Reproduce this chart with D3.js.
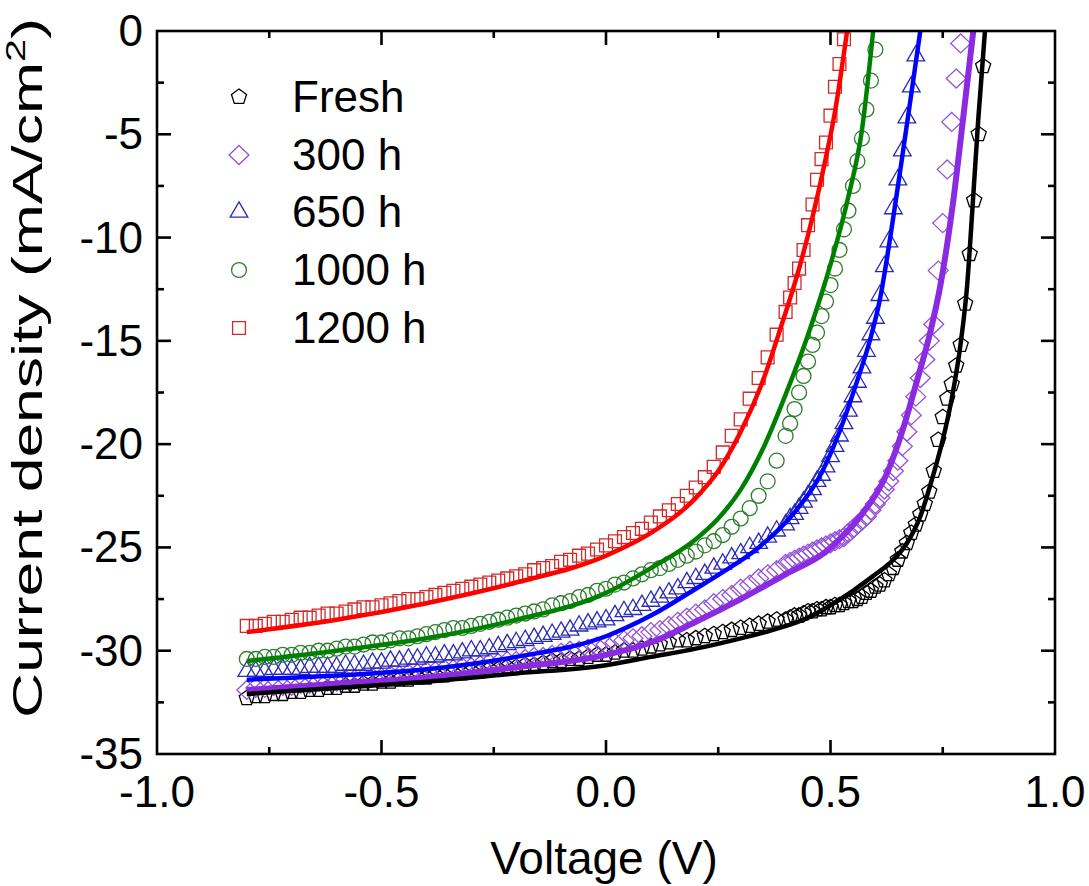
<!DOCTYPE html>
<html>
<head>
<meta charset="utf-8">
<script src="https://cdn.jsdelivr.net/npm/d3@7"></script>
<style>
  body { margin: 0; background: #fff; }
  text { font-family: "Liberation Sans", Arial, sans-serif; fill: #000; }
</style>
</head>
<body>
<script>
var width = 1089, height = 886;

// voltage grid of the measured points (V)
var vFlat = [-0.80,-0.78,-0.76,-0.74,-0.72,-0.70,-0.68,-0.66,-0.64,-0.62,-0.60,-0.58,-0.56,-0.54,-0.52,-0.50,
             -0.48,-0.46,-0.44,-0.42,-0.40,-0.38,-0.36,-0.34,-0.32,-0.30,-0.28,-0.26,-0.24,-0.22,-0.20,-0.18,
             -0.16,-0.14,-0.12,-0.10,-0.08,-0.06,-0.04,-0.02,0.00,0.02,0.04,0.06,0.08,0.10,0.12,0.14,
             0.16,0.18,0.20,0.22,0.24,0.26,0.28,0.30,0.32,0.34,0.36,0.38,0.40];
var vTail = [0.41,0.42,0.43,0.44,0.45,0.46,0.47,0.48,0.49,0.50,0.51,0.52,0.53,0.54,0.55,0.56,0.57,0.58,0.59,0.60,
             0.61,0.62,0.63,0.64,0.65,0.66,0.67,0.68,0.69,0.70,0.71,0.72,0.73,0.74,0.75,0.76,0.77,0.78,0.79,0.80,
             0.81,0.82,0.83,0.84];

// measured current density (mA/cm2)
var freshJ = [-32.3,-32.2,-32.2,-32.1,-32.1,-32.0,-32.0,-31.9,-31.9,-31.8,-31.8,-31.7,-31.7,-31.6,-31.6,-31.5,
              -31.5,-31.4,-31.4,-31.3,-31.3,-31.2,-31.2,-31.1,-31.1,-31.0,-31.0,-30.9,-30.9,-30.8,-30.8,-30.7,
              -30.7,-30.6,-30.5,-30.5,-30.4,-30.4,-30.3,-30.2,-30.2,-30.1,-30.0,-30.0,-29.9,-29.8,-29.7,-29.6,
              -29.5,-29.5,-29.4,-29.3,-29.2,-29.1,-29.0,-28.9,-28.8,-28.7,-28.6,-28.5,-28.5,
              -28.4,-28.3,-28.3,-28.2,-28.1,-28.1,-28.0,-28.0,-27.9,-27.9,-27.8,-27.8,-27.7,-27.6,-27.6,-27.5,
              -27.4,-27.2,-27.1,-26.9,-26.8,-26.6,-26.3,-26.0,-25.6,-25.2,-24.8,-24.3,-23.9,-23.4,-22.9,-22.3,
              -21.3,-19.8,-18.7,-17.8,-17.1,-16.2,-15.2,-13.2,-10.8,-8.2,-5.0,-1.7];
var h300J = [-31.9,-31.8,-31.8,-31.7,-31.7,-31.7,-31.6,-31.6,-31.5,-31.5,-31.5,-31.4,-31.4,-31.3,-31.3,-31.3,
             -31.2,-31.2,-31.1,-31.1,-31.0,-31.0,-30.9,-30.9,-30.8,-30.8,-30.7,-30.6,-30.6,-30.5,-30.5,-30.4,
             -30.3,-30.3,-30.2,-30.1,-30.0,-30.0,-29.9,-29.8,-29.7,-29.6,-29.5,-29.4,-29.3,-29.1,-29.0,-28.8,
             -28.6,-28.4,-28.2,-28.0,-27.7,-27.5,-27.3,-27.0,-26.8,-26.5,-26.3,-26.1,-25.8,
             -25.7,-25.6,-25.5,-25.4,-25.3,-25.2,-25.1,-25.0,-24.9,-24.8,-24.7,-24.6,-24.5,-24.3,-24.1,-23.9,
             -23.7,-23.5,-23.2,-22.9,-22.6,-22.2,-21.8,-21.3,-20.8,-20.1,-19.4,-18.6,-17.7,-16.8,-15.9,-15.0,
             -14.2,-11.6,-9.3,-6.7,-4.4,-2.3,-0.6];
var h650J = [-31.0,-31.0,-31.0,-30.9,-30.9,-30.9,-30.9,-30.8,-30.8,-30.8,-30.8,-30.7,-30.7,-30.7,-30.6,-30.6,
             -30.5,-30.5,-30.4,-30.4,-30.3,-30.3,-30.2,-30.2,-30.1,-30.0,-30.0,-29.9,-29.8,-29.7,-29.6,-29.5,
             -29.4,-29.3,-29.2,-29.1,-29.0,-28.8,-28.7,-28.6,-28.5,-28.3,-28.1,-28.0,-27.8,-27.6,-27.4,-27.2,
             -27.0,-26.7,-26.5,-26.3,-26.0,-25.8,-25.5,-25.3,-25.0,-24.8,-24.5,-24.2,-23.9,
             -23.6,-23.4,-23.1,-22.8,-22.5,-22.2,-21.8,-21.5,-21.1,-20.6,-20.1,-19.6,-19.0,-18.4,-17.7,-17.0,
             -16.3,-15.5,-14.7,-13.9,-12.8,-11.4,-10.2,-8.6,-7.2,-5.8,-4.2,-2.7,-1.2];
var h1000J = [-30.4,-30.4,-30.3,-30.3,-30.2,-30.2,-30.1,-30.1,-30.0,-30.0,-29.9,-29.8,-29.8,-29.7,-29.6,-29.6,
              -29.5,-29.4,-29.4,-29.3,-29.2,-29.1,-29.0,-28.9,-28.9,-28.8,-28.7,-28.6,-28.5,-28.4,-28.3,-28.2,
              -28.1,-28.0,-27.8,-27.7,-27.6,-27.4,-27.3,-27.1,-27.0,-26.8,-26.7,-26.5,-26.3,-26.1,-26.0,-25.8,
              -25.6,-25.4,-25.2,-24.9,-24.7,-24.4,-24.0,-23.6,-23.1,-22.5,-21.8,-20.8,-19.6,
              -19.0,-18.3,-17.5,-16.7,-16.0,-15.2,-14.6,-13.8,-13.1,-12.3,-11.5,-10.6,-9.6,-8.7,-7.5,-6.3,
              -5.2,-3.8,-2.4,-0.9];
var h1200J = [-28.8,-28.8,-28.7,-28.6,-28.6,-28.5,-28.4,-28.4,-28.3,-28.2,-28.2,-28.1,-28.0,-27.9,-27.9,-27.8,
              -27.7,-27.6,-27.5,-27.5,-27.4,-27.3,-27.2,-27.1,-27.0,-26.9,-26.8,-26.7,-26.6,-26.5,-26.4,-26.3,
              -26.1,-26.0,-25.9,-25.7,-25.6,-25.4,-25.3,-25.1,-24.9,-24.7,-24.5,-24.3,-24.1,-23.8,-23.5,-23.2,
              -22.9,-22.5,-22.1,-21.6,-21.1,-20.4,-19.6,-18.8,-17.8,-16.8,-15.8,-14.7,-13.6,
              -12.9,-12.2,-11.5,-10.6,-9.4,-8.4,-7.2,-6.2,-5.4,-4.1,-2.7,-1.6,-0.4];

// fitted curves [V, J]
var freshFit = [[-0.8,-32.1],[-0.6,-31.8],[-0.4,-31.5],[-0.2,-31.1],[0,-30.7],[0.1,-30.3],[0.2,-29.9],[0.3,-29.4],
                [0.37,-29.0],[0.45,-28.4],[0.5,-27.8],[0.55,-27.1],[0.6,-26.3],[0.63,-25.8],[0.67,-24.8],[0.70,-23.5],
                [0.73,-21.4],[0.75,-19.8],[0.77,-17.8],[0.79,-15.1],[0.804,-12.4],[0.817,-8.3],[0.829,-4.3],[0.844,0]];
var h300Fit = [[-0.8,-31.9],[-0.6,-31.6],[-0.4,-31.3],[-0.2,-30.8],[0,-30.2],[0.1,-29.6],[0.2,-28.6],[0.3,-27.5],
               [0.4,-26.3],[0.49,-25.2],[0.52,-24.6],[0.57,-23.4],[0.626,-21.4],[0.661,-19.3],[0.693,-16.9],
               [0.722,-14.6],[0.744,-12.4],[0.773,-8.3],[0.795,-4.3],[0.818,0]];
var h650Fit = [[-0.8,-31.4],[-0.6,-31.2],[-0.4,-30.9],[-0.2,-30.3],[0,-29.3],[0.1,-28.3],[0.2,-27.0],[0.26,-26.2],
               [0.34,-25.0],[0.42,-23.3],[0.48,-21.4],[0.52,-19.4],[0.56,-16.9],[0.59,-14.8],[0.61,-13.0],
               [0.633,-10.0],[0.655,-6.8],[0.677,-3.5],[0.70,0]];
var h1000Fit = [[-0.8,-30.5],[-0.6,-30.0],[-0.4,-29.4],[-0.2,-28.5],[0,-27.2],[0.1,-26.0],[0.2,-24.6],[0.25,-23.6],
                [0.3,-22.2],[0.35,-20.2],[0.40,-17.6],[0.45,-14.7],[0.50,-11.3],[0.54,-8.0],[0.57,-4.8],[0.595,0]];
var h1200Fit = [[-0.8,-29.1],[-0.6,-28.5],[-0.4,-27.7],[-0.2,-26.7],[0,-25.4],[0.1,-24.3],[0.2,-22.6],[0.25,-21.3],
                [0.3,-19.4],[0.35,-16.9],[0.39,-14.3],[0.43,-11.5],[0.46,-9.0],[0.49,-6.1],[0.51,-3.9],[0.537,0]];

var xTicks = [-1.0, -0.5, 0.0, 0.5, 1.0];
var yTicks = [0, -5, -10, -15, -20, -25, -30, -35];

// pentagon / diamond symbols
var symPentagon = {draw: function(ctx, size) {
  var r = Math.sqrt(size / 2.378);
  for (var k = 0; k < 5; k++) {
    var a = -Math.PI / 2 + k * 2 * Math.PI / 5;
    if (k == 0) ctx.moveTo(r * Math.cos(a), r * Math.sin(a)); else ctx.lineTo(r * Math.cos(a), r * Math.sin(a));
  }
  ctx.closePath();
}};
var symDiamond = {draw: function(ctx, size) {
  var r = Math.sqrt(size / 2);
  ctx.moveTo(0, -r); ctx.lineTo(r * 1.05, 0); ctx.lineTo(0, r); ctx.lineTo(-r * 1.05, 0); ctx.closePath();
}};

var series = [
  {name: "Fresh",  J: freshJ, fit: freshFit, line: "#000000", mark: "#000000", sym: symPentagon, size: 150, lw: 4.5},
  {name: "300 h",  J: h300J,  fit: h300Fit,  line: "#8a2be2", mark: "#9453d6", sym: symDiamond,  size: 180, lw: 6},
  {name: "650 h",  J: h650J,  fit: h650Fit,  line: "#0000ff", mark: "#2a2ab8", sym: d3.symbolTriangle, size: 135, lw: 4.5},
  {name: "1000 h", J: h1000J, fit: h1000Fit, line: "#008000", mark: "#2f7d2f", sym: d3.symbolCircle, size: 175, lw: 4.5},
  {name: "1200 h", J: h1200J, fit: h1200Fit, line: "#ff0000", mark: "#d02a2a", sym: d3.symbolSquare, size: 165, lw: 4.5}
];

var svg = d3.select("body").append("svg").attr("width", width).attr("height", height);

var x = d3.scaleLinear().domain([-1, 1]).range([157, 1055]);
var y = d3.scaleLinear().domain([-35, 0]).range([754, 31]);

svg.append("clipPath").attr("id", "plotclip")
   .append("rect").attr("x", 157).attr("y", 31).attr("width", 898).attr("height", 723);

var plot = svg.append("g").attr("clip-path", "url(#plotclip)");

series.forEach(function(s) {
  var pts = s.J.map(function(j, i) { return [i < vFlat.length ? vFlat[i] : vTail[i - vFlat.length], j]; });
  plot.append("g").selectAll("path")
      .data(pts)
      .enter()
      .append("path")
      .attr("transform", function(d) { return "translate(" + x(d[0]) + "," + y(d[1]) + ")"; })
      .attr("d", d3.symbol().type(s.sym).size(s.size))
      .attr("fill", "none")
      .attr("stroke", s.mark)
      .attr("stroke-width", 1.3);
});

var line = d3.line().x(function(d) { return x(d[0]); }).y(function(d) { return y(d[1]); }).curve(d3.curveMonotoneX);
series.slice().reverse().forEach(function(s) {
  plot.append("path").datum(s.fit)
      .attr("d", line)
      .attr("fill", "none")
      .attr("stroke", s.line)
      .attr("stroke-width", s.lw);
});

// axes frame and ticks (ticks inside)
var axes = svg.append("g");
axes.append("rect").attr("x", 157).attr("y", 31).attr("width", 898).attr("height", 723)
    .attr("fill", "none").attr("stroke", "#000").attr("stroke-width", 2.6);

var xMinor = [-0.75, -0.25, 0.25, 0.75];
var yMinor = [-2.5, -7.5, -12.5, -17.5, -22.5, -27.5, -32.5];

function tickX(vals, len) {
  vals.forEach(function(v) {
    axes.append("line").attr("x1", x(v)).attr("x2", x(v)).attr("y1", 754).attr("y2", 754 - len)
        .attr("stroke", "#000").attr("stroke-width", 2.6);
    axes.append("line").attr("x1", x(v)).attr("x2", x(v)).attr("y1", 31).attr("y2", 31 + len)
        .attr("stroke", "#000").attr("stroke-width", 2.6);
  });
}
function tickY(vals, len) {
  vals.forEach(function(v) {
    axes.append("line").attr("x1", 157).attr("x2", 157 + len).attr("y1", y(v)).attr("y2", y(v))
        .attr("stroke", "#000").attr("stroke-width", 2.6);
    axes.append("line").attr("x1", 1055).attr("x2", 1055 - len).attr("y1", y(v)).attr("y2", y(v))
        .attr("stroke", "#000").attr("stroke-width", 2.6);
  });
}
tickX(xTicks.slice(1, -1), 14); tickX(xMinor, 7);
tickY(yTicks.slice(1, -1), 14); tickY(yMinor, 7);

svg.selectAll("text.xt").data(xTicks).enter().append("text")
   .attr("x", function(d) { return x(d); }).attr("y", 807)
   .attr("text-anchor", "middle").attr("font-size", 44)
   .text(function(d) { return d.toFixed(1); });

svg.selectAll("text.yt").data(yTicks).enter().append("text")
   .attr("x", 143).attr("y", function(d) { return y(d) + 15; })
   .attr("text-anchor", "end").attr("font-size", 44)
   .text(function(d) { return String(d); });

svg.append("text").attr("x", 604).attr("y", 874).attr("text-anchor", "middle").attr("font-size", 46)
   .text("Voltage (V)");

// y title: stretched along its length as in the original figure
var yt = svg.append("text").attr("text-anchor", "middle").attr("font-size", 42);
yt.append("tspan").text("Current density (mA/cm");
yt.append("tspan").attr("font-size", 28).attr("dy", -17).text("2");
yt.append("tspan").attr("dy", 17).text(")");
var ytLen = yt.node().getComputedTextLength();
yt.attr("transform", "translate(42,368) rotate(-90) scale(" + (700 / ytLen) + ",1)");

// legend
var legY = [97, 155, 212, 270, 328];
series.forEach(function(s, i) {
  svg.append("path")
     .attr("transform", "translate(239," + legY[i] + ")")
     .attr("d", d3.symbol().type(s.sym).size(s.size))
     .attr("fill", "none").attr("stroke", s.mark).attr("stroke-width", 1.3);
  svg.append("text").attr("x", 292).attr("y", legY[i] + 15).attr("font-size", 44).text(s.name);
});
</script>
</body>
</html>
